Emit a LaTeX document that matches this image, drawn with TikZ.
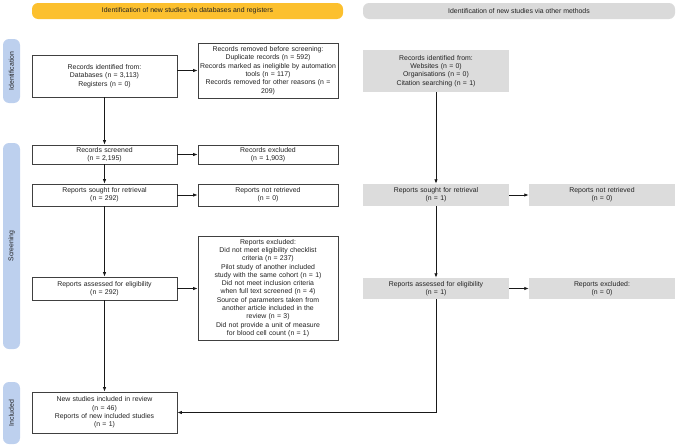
\documentclass[tikz,border=0pt]{standalone}
\usepackage{fontspec}
\setmainfont{Liberation Sans}
\usetikzlibrary{arrows.meta,calc}
\definecolor{bannery}{HTML}{FCC02E}
\definecolor{bannerg}{HTML}{DADADA}
\definecolor{boxg}{HTML}{DCDCDC}
\definecolor{sideb}{HTML}{BDD0EE}
\definecolor{txt}{HTML}{222222}
\begin{document}
\begin{tikzpicture}[x=1pt,y=-1pt,
  font=\fontsize{6.9}{8.3}\selectfont, text=txt,
  wbox/.style={draw=black!75, line width=0.8pt, fill=white, align=center, inner sep=1pt},
  gbox/.style={draw=none, fill=boxg, align=center, inner sep=1pt},
  banner/.style={rounded corners=6pt, align=center, inner sep=0pt},
  side/.style={fill=sideb, rounded corners=6pt, inner sep=0pt},
  arr/.style={draw=black!90, line width=0.8pt, -{Latex[length=4.5pt,width=3.5pt]}}]
\useasboundingbox (0,0) rectangle (678,447);

% banners
\node[banner, fill=bannery, minimum width=311, minimum height=16] (b1) at (187.5,11) {Identification of new studies via databases and registers};
\node[banner, fill=bannerg, minimum width=312, minimum height=16] (b2) at (519,11) {Identification of new studies via other methods};

% side bars
\node[side, minimum width=17, minimum height=64] (s1) at (11.5,71) {};
\node[rotate=90] at (s1) {Identification};
\node[side, minimum width=17, minimum height=206] (s2) at (11.5,246) {};
\node[rotate=90] at (s2) {Screening};
\node[side, minimum width=17, minimum height=62] (s3) at (11.5,413) {};
\node[rotate=90] at (s3) {Included};

% left column
\node[wbox, minimum width=145, minimum height=42, text width=140] (id1) at (104.5,76)
  {Records identified from:\\Databases (n = 3,113)\\Registers (n = 0)};
\node[wbox, minimum width=140, minimum height=55, text width=136] (rem) at (268,70.5)
  {Records removed before screening:\\Duplicate records (n = 592)\\Records marked as ineligible by automation\\tools (n = 117)\\Records removed for other reasons (n =\\209)};
\node[wbox, minimum width=145, minimum height=19, text width=140] (scr) at (104.5,154.5)
  {Records screened\\(n = 2,195)};
\node[wbox, minimum width=140, minimum height=19, text width=136] (exc) at (268,154.5)
  {Records excluded\\(n = 1,903)};
\node[wbox, minimum width=145, minimum height=22, text width=140] (sought) at (104.5,195)
  {Reports sought for retrieval\\(n = 292)};
\node[wbox, minimum width=140, minimum height=22, text width=136] (notret) at (268,195)
  {Reports not retrieved\\(n = 0)};
\node[wbox, minimum width=140, minimum height=104, text width=136] (repexc) at (268,288)
  {Reports excluded:\\Did not meet eligibility checklist\\criteria (n = 237)\\Pilot study of another included\\study with the same cohort (n = 1)\\Did not meet inclusion criteria\\when full text screened (n = 4)\\Source of parameters taken from\\another article included in the\\review (n = 3)\\Did not provide a unit of measure\\for blood cell count (n = 1)};
\node[wbox, minimum width=145, minimum height=23, text width=140] (assess) at (104.5,288.5)
  {Reports assessed for eligibility\\(n = 292)};
\node[wbox, minimum width=145, minimum height=41, text width=140] (incl) at (104.5,412.5)
  {New studies included in review\\(n = 46)\\Reports of new included studies\\(n = 1)};

% right column
\node[gbox, minimum width=146, minimum height=42, text width=140] (oid) at (436,71)
  {Records identified from:\\Websites (n = 0)\\Organisations (n = 0)\\Citation searching (n = 1)};
\node[gbox, minimum width=146, minimum height=22, text width=140] (osought) at (436,195)
  {Reports sought for retrieval\\(n = 1)};
\node[gbox, minimum width=146, minimum height=22, text width=140] (onotret) at (602,195)
  {Reports not retrieved\\(n = 0)};
\node[gbox, minimum width=146, minimum height=21, text width=140] (oassess) at (436,288.5)
  {Reports assessed for eligibility\\(n = 1)};
\node[gbox, minimum width=146, minimum height=21, text width=140] (oexc) at (602,288.5)
  {Reports excluded:\\(n = 0)};

% connectors
\draw[arr] (id1.east |- rem.west) -- (rem.west);
\draw[arr] (id1.south) -- (scr.north);
\draw[arr] (scr.east) -- (exc.west);
\draw[arr] (scr.south) -- (sought.north);
\draw[arr] (sought.east) -- (notret.west);
\draw[arr] (sought.south) -- (assess.north);
\draw[arr] (assess.east) -- (assess.east -| repexc.west);
\draw[arr] (assess.south) -- (incl.north);
\draw[arr] (oid.south) -- (osought.north);
\draw[arr] (osought.east) -- (onotret.west);
\draw[arr] (osought.south) -- (oassess.north);
\draw[arr] (oassess.east) -- (oexc.west);
\draw[arr] (oassess.south) |- (incl.east);
\end{tikzpicture}
\end{document}
